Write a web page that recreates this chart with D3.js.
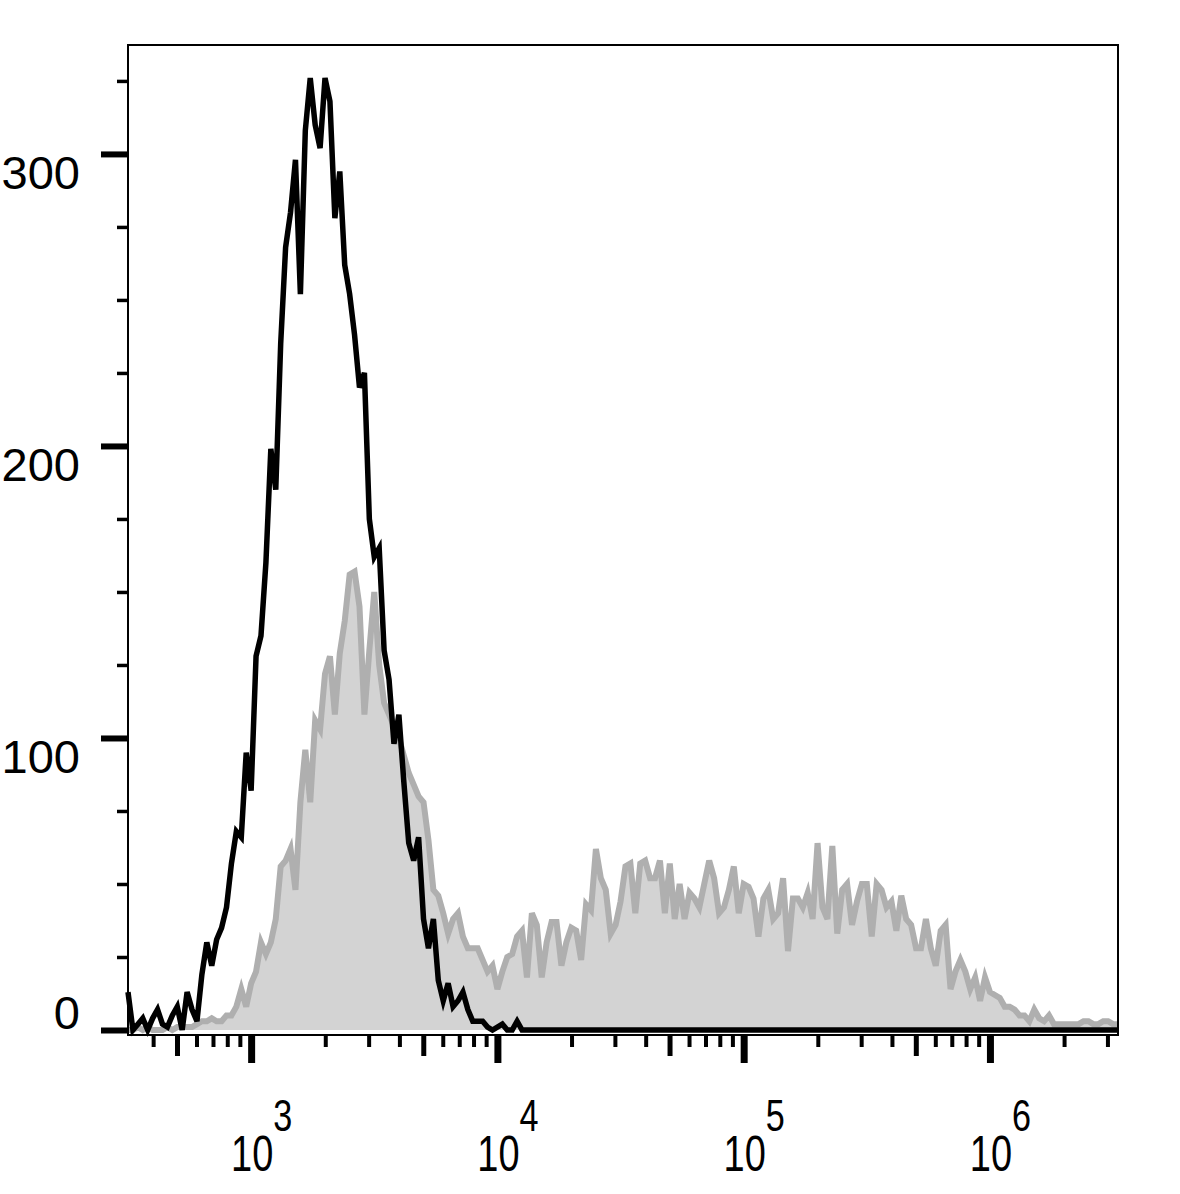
<!DOCTYPE html>
<html>
<head>
<meta charset="utf-8">
<script src="https://cdn.jsdelivr.net/npm/d3@7"></script>
<style>
  body { margin: 0; background: #ffffff; }
  svg { display: block; }
</style>
</head>
<body>
<svg id="chart" width="1180" height="1194"></svg>
<script>
// ---------- data ----------
// Histogram bins: evenly spaced in log10 intensity, starting at 10^2.5, 0.02 decade apart
const binLogStart = 2.5;
const binLogStep = 0.02;

// Unstained / isotype control (black outline)
const controlCounts = [
  13,0,2,4,0,4,7,2,1,5,
  8,0,13,7,3,19,30,22,31,35,
  42,57,68,66,95,82,128,135,160,199,
  185,235,268,280,298,252,308,326,310,302,
  326,318,278,294,262,252,238,220,225,175,
  162,165,130,120,98,108,85,64,58,66,
  38,28,38,17,10,16,8,10,13,7,
  3,3,3,1,0,1,2,0,0,3,
  0,0,0,0,0,0,0,0,0,0,
  0,0,0,0,0,0,0,0,0,0,
  0,0,0,0,0,0,0,0,0,0,
  0,0,0,0,0,0,0,0,0,0,
  0,0,0,0,0,0,0,0,0,0,
  0,0,0,0,0,0,0,0,0,0,
  0,0,0,0,0,0,0,0,0,0,
  0,0,0,0,0,0,0,0,0,0,
  0,0,0,0,0,0,0,0,0,0,
  0,0,0,0,0,0,0,0,0,0,
  0,0,0,0,0,0,0,0,0,0,
  0,0,0,0,0,0,0,0,0,0,
  0,0
];

// Stained sample (grey filled)
const stainedCounts = [
  0,0,1,0,1,0,0,0,1,0,
  1,1,1,1,2,3,3,4,3,3,
  5,5,8,14,8,16,20,30,26,30,
  38,56,58,62,48,78,96,78,106,103,
  122,128,108,129,140,156,157,145,108,130,
  150,125,112,108,104,100,94,88,84,80,
  78,65,48,46,40,33,38,40,32,28,
  28,28,24,20,22,14,20,25,26,32,
  34,18,40,36,18,30,37,37,22,30,
  35,34,24,43,41,62,52,48,33,36,
  44,56,57,40,57,58,52,52,58,40,
  57,38,50,38,47,45,42,50,58,52,
  40,42,48,56,40,50,49,45,32,45,
  48,38,40,52,27,45,45,42,47,38,
  64,42,38,63,33,48,50,36,44,50,
  50,32,50,48,42,44,34,46,38,36,
  28,28,38,28,22,34,36,14,20,24,
  20,14,18,10,18,13,12,11,8,8,
  7,5,5,3,7,4,3,5,2,2,
  2,2,2,2,3,3,2,2,3,3,
  2,2
];

const yMajorTicks = [0, 100, 200, 300];
const yMinorTicks = [25, 50, 75, 125, 150, 175, 225, 250, 275, 325];
const xDecadeTicks = [1e3, 1e4, 1e5, 1e6];
const xMidTicks = [5e2, 5e3, 5e4, 5e5];
const xMinorTicks = [4e2, 6e2, 7e2, 8e2, 9e2,
  2e3, 3e3, 4e3, 6e3, 7e3, 8e3, 9e3,
  2e4, 3e4, 4e4, 6e4, 7e4, 8e4, 9e4,
  2e5, 3e5, 4e5, 6e5, 7e5, 8e5, 9e5,
  2e6, 3e6];
const xDecadeExponents = ["3", "4", "5", "6"];

// ---------- layout ----------
const frame = { left: 128, right: 1118, top: 45, bottom: 1035 };
const zeroY = 1030;

const svg = d3.select("#chart");

const x = d3.scaleLog()
  .domain([Math.pow(10, 2.5), Math.pow(10, 6.52)])
  .range([frame.left, frame.right]);

const y = d3.scaleLinear()
  .domain([0, 337.3])
  .range([zeroY, frame.top]);

const binValue = i => Math.pow(10, binLogStart + binLogStep * i);

const controlData = controlCounts.map((c, i) => ({ v: binValue(i), c }));
const stainedData = stainedCounts.map((c, i) => ({ v: binValue(i), c }));

const area = d3.area()
  .x(d => x(d.v))
  .y0(y(0))
  .y1(d => y(d.c));

const line = d3.line()
  .x(d => x(d.v))
  .y(d => y(d.c));

// stained, filled grey
svg.append("path")
  .datum(stainedData)
  .attr("d", area)
  .attr("fill", "#d3d3d3");

svg.append("path")
  .datum(stainedData)
  .attr("d", line)
  .attr("fill", "none")
  .attr("stroke", "#afafaf")
  .attr("stroke-width", 6)
  .attr("stroke-linejoin", "miter");

// control, black outline
svg.append("path")
  .datum(controlData)
  .attr("d", line)
  .attr("fill", "none")
  .attr("stroke", "#000000")
  .attr("stroke-width", 5.5)
  .attr("stroke-linejoin", "miter");

// frame
svg.append("rect")
  .attr("x", frame.left)
  .attr("y", frame.top)
  .attr("width", frame.right - frame.left)
  .attr("height", frame.bottom - frame.top)
  .attr("fill", "none")
  .attr("stroke", "#000")
  .attr("stroke-width", 2);

// ---------- axes ----------
function styleAxis(g, width) {
  g.select(".domain").remove();
  g.selectAll(".tick line").attr("stroke", "#000").attr("stroke-width", width);
  g.selectAll(".tick text").remove();
}

svg.append("g")
  .attr("transform", `translate(0,${frame.bottom + 1})`)
  .call(d3.axisBottom(x).tickValues(xMinorTicks).tickSize(11).tickFormat(""))
  .call(g => styleAxis(g, 4));

svg.append("g")
  .attr("transform", `translate(0,${frame.bottom + 1})`)
  .call(d3.axisBottom(x).tickValues(xMidTicks).tickSize(20).tickFormat(""))
  .call(g => styleAxis(g, 5));

svg.append("g")
  .attr("transform", `translate(0,${frame.bottom + 1})`)
  .call(d3.axisBottom(x).tickValues(xDecadeTicks).tickSize(27).tickFormat(""))
  .call(g => styleAxis(g, 7));

svg.append("g")
  .attr("transform", `translate(${frame.left},0)`)
  .call(d3.axisLeft(y).tickValues(yMinorTicks).tickSize(11).tickFormat(""))
  .call(g => styleAxis(g, 3.5));

svg.append("g")
  .attr("transform", `translate(${frame.left},0)`)
  .call(d3.axisLeft(y).tickValues(yMajorTicks).tickSize(27).tickFormat(""))
  .call(g => styleAxis(g, 6));

// y labels
const font = "'Liberation Sans', Arial, Helvetica, sans-serif";
svg.append("g")
  .selectAll("text")
  .data(yMajorTicks)
  .join("text")
  .attr("x", 80)
  .attr("y", d => d === 0 ? y(d) - 1 : y(d) + 35)
  .attr("text-anchor", "end")
  .attr("font-family", font)
  .attr("font-size", 47)
  .attr("fill", "#000")
  .text(d => d3.format("d")(d));

// x labels: 10^n
const xl = svg.append("g")
  .selectAll("g")
  .data(xDecadeTicks)
  .join("g")
  .attr("transform", d => `translate(${x(d) + 1},0)`);

xl.append("text")
  .attr("transform", "translate(0,1171) scale(0.76,1)")
  .attr("text-anchor", "middle")
  .attr("font-family", font)
  .attr("font-size", 50)
  .attr("fill", "#000")
  .text("10");

xl.append("text")
  .attr("transform", "translate(21,1131) scale(0.76,1)")
  .attr("text-anchor", "start")
  .attr("font-family", font)
  .attr("font-size", 45)
  .attr("fill", "#000")
  .text((d, i) => xDecadeExponents[i]);
</script>
</body>
</html>
